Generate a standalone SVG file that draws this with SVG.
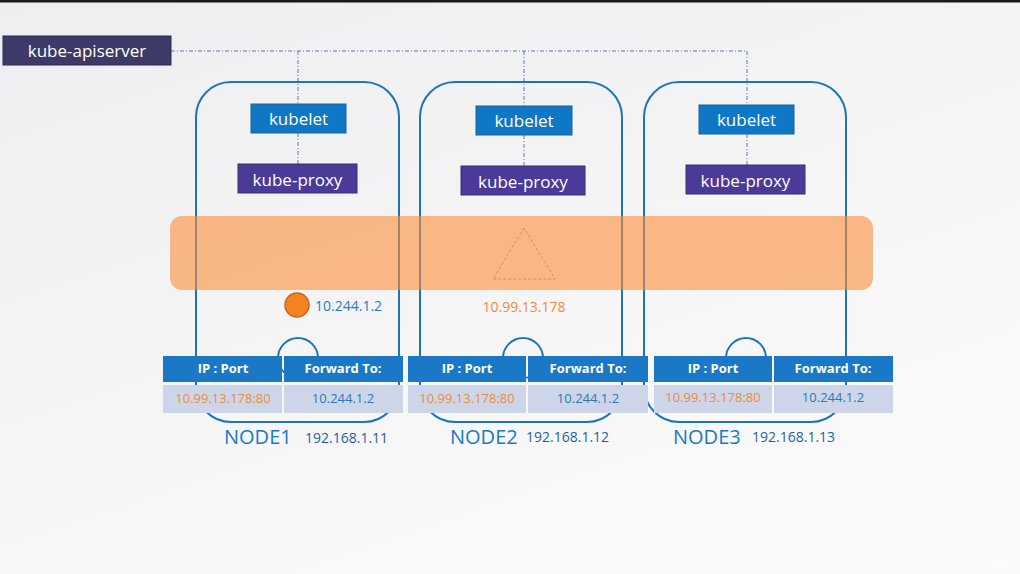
<svg xmlns="http://www.w3.org/2000/svg" width="1020" height="574" viewBox="0 0 1020 574">
<defs>
<linearGradient id="bg" x1="0" y1="0" x2="0.6" y2="1">
<stop offset="0" stop-color="#eeeef0"/>
<stop offset="1" stop-color="#fafafa"/>
</linearGradient>
<style>
text{font-family:"Open Sans","Liberation Sans",sans-serif}
.node{fill:none;stroke:#1b75bb;stroke-width:2}
.kubelet{fill:#0e78c6;stroke:#1663a0;stroke-width:1}
.proxy{fill:#4b3a97;stroke:#3a2d78;stroke-width:1}
.wt{fill:#ffffff;font-size:17px;text-anchor:middle}
.link{fill:none;stroke:#5b7db0;stroke-width:1;stroke-dasharray:4 2 1 2}
.th{fill:#1a78c6}
.td{fill:#cdd6e8}
.tht{fill:#ffffff;font-size:13px;font-weight:bold;text-anchor:middle}
.ipo{fill:#f08a3c;font-size:13px;text-anchor:middle}
.ipb{fill:#2a78c0;font-size:13px;text-anchor:middle}
.nlab{fill:#1a78c6;font-size:20px}
.nip{fill:#1f5f9f;font-size:14px}
</style>
</defs>
<rect x="0" y="0" width="1020" height="574" fill="url(#bg)"/>
<rect x="0" y="0" width="1020" height="2.5" fill="#1a1a1e"/>

<g id="connectors">
<path class="link" d="M171 51 H747 M298 51 V104 M524 51 V106 M747 51 V105 M298 133 V164 M524 135 V166 M747 134 V165"/>
</g>

<g id="node1-frame"><rect class="node" x="196" y="82" width="203" height="340" rx="35"/><circle class="node" cx="298" cy="358" r="20"/></g>
<g id="node2-frame"><rect class="node" x="420" y="82" width="202" height="340" rx="35"/><circle class="node" cx="523" cy="358" r="20"/></g>
<g id="node3-frame"><rect class="node" x="644" y="82" width="202" height="340" rx="35"/><circle class="node" cx="746" cy="358" r="20"/></g>

<g id="kube-apiserver"><rect x="3" y="36" width="168" height="29" fill="#3e3a68" stroke="#2e2b52" stroke-width="1"/><text class="wt" x="87" y="57" font-size="18">kube-apiserver</text></g>

<g id="kubelet1"><rect class="kubelet" x="251" y="104" width="95" height="29"/><text class="wt" x="298.5" y="125">kubelet</text></g>
<g id="kube-proxy1"><rect class="proxy" x="238" y="164" width="119" height="29"/><text class="wt" x="297.5" y="186">kube-proxy</text></g>
<g id="kubelet2"><rect class="kubelet" x="476" y="106" width="96" height="29"/><text class="wt" x="524" y="127">kubelet</text></g>
<g id="kube-proxy2"><rect class="proxy" x="461" y="166" width="124" height="29"/><text class="wt" x="523" y="188">kube-proxy</text></g>
<g id="kubelet3"><rect class="kubelet" x="699" y="105" width="95" height="29"/><text class="wt" x="746.5" y="126">kubelet</text></g>
<g id="kube-proxy3"><rect class="proxy" x="686" y="165" width="119" height="29"/><text class="wt" x="745.5" y="187">kube-proxy</text></g>

<g id="service-band">
<rect x="170" y="216" width="703" height="74" rx="12" fill="#fd8e3b" fill-opacity="0.6"/>
<polygon points="524,228 493,279 555,279" fill="none" stroke="#e48a4a" stroke-width="1" stroke-dasharray="3 2"/>
</g>

<g id="pod"><circle cx="297" cy="305" r="12" fill="#f58220" stroke="#c8661c" stroke-width="1.5"/><text x="315" y="311" fill="#2a78c0" font-size="14">10.244.1.2</text></g>
<g id="service-ip"><text x="524" y="312" fill="#f08a3c" font-size="14" text-anchor="middle">10.99.13.178</text></g>

<g id="table1">
<rect class="th" x="163" y="356" width="119" height="26"/><rect class="th" x="284" y="356" width="119" height="26"/>
<rect class="td" x="163" y="385" width="119" height="28"/><rect class="td" x="284" y="385" width="119" height="28"/>
<text class="tht" x="223" y="373">IP : Port</text><text class="tht" x="343" y="373">Forward To:</text>
<text class="ipo" x="223" y="403">10.99.13.178:80</text><text class="ipb" x="343" y="403">10.244.1.2</text>
</g>
<g id="table2">
<rect class="th" x="408" y="356" width="118" height="26"/><rect class="th" x="528" y="356" width="120" height="26"/>
<rect class="td" x="408" y="385" width="118" height="28"/><rect class="td" x="528" y="385" width="120" height="28"/>
<text class="tht" x="467" y="373">IP : Port</text><text class="tht" x="588" y="373">Forward To:</text>
<text class="ipo" x="467" y="403">10.99.13.178:80</text><text class="ipb" x="588" y="403">10.244.1.2</text>
</g>
<g id="table3">
<rect class="th" x="654" y="356" width="118" height="26"/><rect class="th" x="774" y="356" width="119" height="26"/>
<rect class="td" x="654" y="385" width="118" height="28"/><rect class="td" x="774" y="385" width="119" height="28"/>
<text class="tht" x="713" y="373">IP : Port</text><text class="tht" x="833" y="373">Forward To:</text>
<text class="ipo" x="713" y="402">10.99.13.178:80</text><text class="ipb" x="833" y="402">10.244.1.2</text>
</g>

<g id="node1-label"><text class="nlab" x="224" y="444">NODE1</text><text class="nip" x="305" y="443">192.168.1.11</text></g>
<g id="node2-label"><text class="nlab" x="450" y="444">NODE2</text><text class="nip" x="526" y="442">192.168.1.12</text></g>
<g id="node3-label"><text class="nlab" x="673" y="444">NODE3</text><text class="nip" x="752" y="442">192.168.1.13</text></g>

<text x="981" y="569" fill="#ffffff" fill-opacity="0.9" font-size="10">Udemy</text>
</svg>
